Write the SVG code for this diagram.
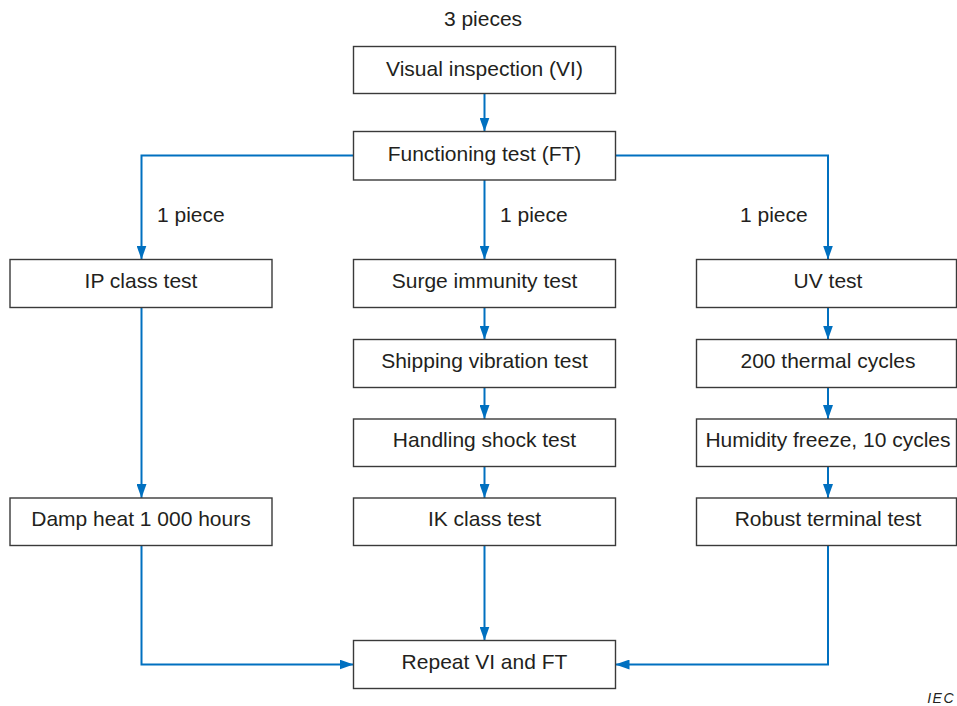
<svg xmlns="http://www.w3.org/2000/svg" width="957" height="706" viewBox="0 0 957 706">
<style>
.box{fill:#fff;stroke:#3a3a3a;stroke-width:1.4}
.t{font-family:"Liberation Sans",Arial,sans-serif;font-size:21px;fill:#231f20;text-anchor:middle}
.l{font-family:"Liberation Sans",Arial,sans-serif;font-size:21px;fill:#231f20}
.c{fill:none;stroke:#0070c0;stroke-width:2;marker-end:url(#a)}
</style>
<defs>
<marker id="a" markerUnits="userSpaceOnUse" markerWidth="14" markerHeight="10" refX="14" refY="5" orient="auto">
<path d="M0,0 L14,5 L0,10 z" fill="#0070c0"/>
</marker>
</defs>
<rect width="957" height="706" fill="#fff"/>
<text class="t" x="483" y="26">3 pieces</text>
<g id="connectors">
<path class="c" d="M484.5,93.5 V131.5"/>
<path class="c" d="M353.5,155.5 H141.5 V259.5"/>
<path class="c" d="M484.5,180 V259.5"/>
<path class="c" d="M615.5,155.5 H828 V259.5"/>
<path class="c" d="M484.5,307.5 V339.5"/>
<path class="c" d="M484.5,387.5 V419"/>
<path class="c" d="M484.5,466.5 V498"/>
<path class="c" d="M141.5,307.5 V498"/>
<path class="c" d="M828,307.5 V339.5"/>
<path class="c" d="M828,387.5 V419"/>
<path class="c" d="M828,466.5 V498"/>
<path class="c" d="M141.5,545.5 V664.5 H353.5"/>
<path class="c" d="M484.5,545.5 V640.5"/>
<path class="c" d="M828,545.5 V664.5 H615.5"/>
<text class="l" x="157" y="222">1 piece</text>
<text class="l" x="500" y="222">1 piece</text>
<text class="l" x="740" y="222">1 piece</text>
</g>
<g id="vi"><rect class="box" x="353.5" y="46.5" width="262" height="47"/><text class="t" x="484.5" y="76">Visual inspection (VI)</text></g>
<g id="ft"><rect class="box" x="353.5" y="131.5" width="262" height="48.5"/><text class="t" x="484.5" y="161">Functioning test (FT)</text></g>
<g id="ip"><rect class="box" x="10" y="259.5" width="262" height="48"/><text class="t" x="141" y="288">IP class test</text></g>
<g id="surge"><rect class="box" x="353.5" y="259.5" width="262" height="48"/><text class="t" x="484.5" y="288">Surge immunity test</text></g>
<g id="uv"><rect class="box" x="696.5" y="259.5" width="260" height="48"/><text class="t" x="828" y="288">UV test</text></g>
<g id="ship"><rect class="box" x="353.5" y="339.5" width="262" height="48"/><text class="t" x="484.5" y="368">Shipping vibration test</text></g>
<g id="thermal"><rect class="box" x="696.5" y="339.5" width="260" height="48"/><text class="t" x="828" y="368">200 thermal cycles</text></g>
<g id="handling"><rect class="box" x="353.5" y="419" width="262" height="47.5"/><text class="t" x="484.5" y="447">Handling shock test</text></g>
<g id="humidity"><rect class="box" x="696.5" y="419" width="260" height="47.5"/><text class="t" x="828" y="447">Humidity freeze, 10 cycles</text></g>
<g id="damp"><rect class="box" x="10" y="498" width="262" height="47.5"/><text class="t" x="141" y="526">Damp heat 1 000 hours</text></g>
<g id="ik"><rect class="box" x="353.5" y="498" width="262" height="47.5"/><text class="t" x="484.5" y="526">IK class test</text></g>
<g id="robust"><rect class="box" x="696.5" y="498" width="260" height="47.5"/><text class="t" x="828" y="526">Robust terminal test</text></g>
<g id="repeat"><rect class="box" x="353.5" y="640.5" width="262" height="48"/><text class="t" x="484.5" y="669">Repeat VI and FT</text></g>
<text x="955" y="703" font-family="'Liberation Sans',Arial,sans-serif" font-size="14" font-style="italic" letter-spacing="1.5" fill="#231f20" text-anchor="end">IEC</text>
</svg>
